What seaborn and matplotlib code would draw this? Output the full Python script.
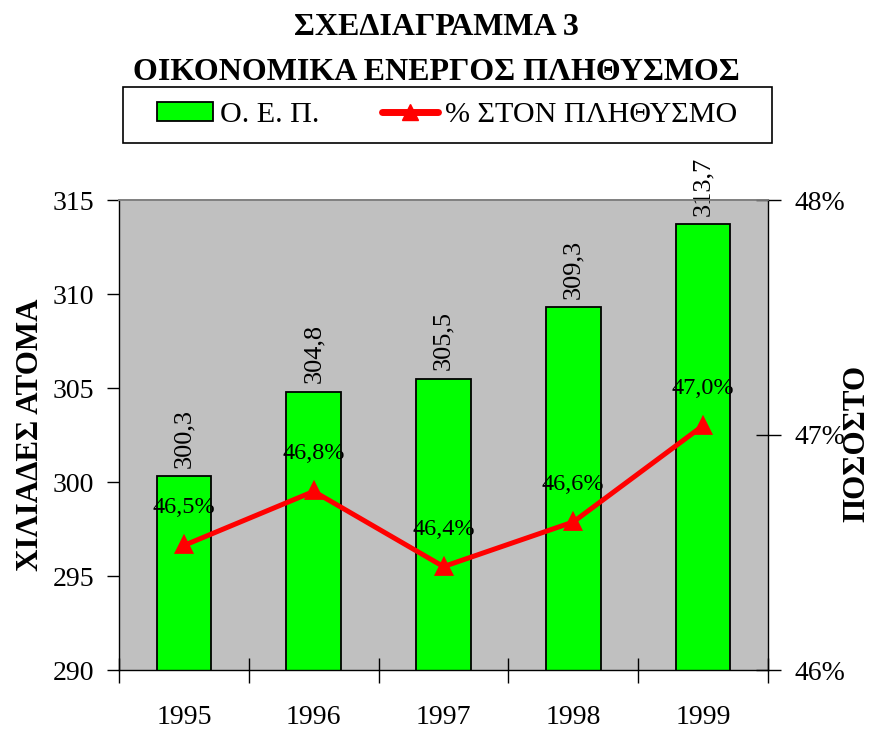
import matplotlib
matplotlib.use("Agg")
import matplotlib.pyplot as plt
import seaborn as sns
import numpy as np
import pandas as pd
from matplotlib.patches import Patch, Rectangle
from matplotlib.lines import Line2D
from matplotlib.ticker import FuncFormatter, FixedLocator

years = ["1995", "1996", "1997", "1998", "1999"]
oep = [300.3, 304.8, 305.5, 309.3, 313.7]
pct = [46.53, 46.76, 46.44, 46.63, 47.04]
pct_labels = ["46,5%", "46,8%", "46,4%", "46,6%", "47,0%"]
bar_labels = ["300,3", "304,8", "305,5", "309,3", "313,7"]

sns.set_theme(style="white")
plt.rcParams['font.family'] = ['Liberation Serif', 'DejaVu Serif']
plt.rcParams.update({"text.color": "black", "axes.labelcolor": "black",
                     "xtick.color": "black", "ytick.color": "black",
                     "xtick.labelcolor": "black", "ytick.labelcolor": "black"})

df = pd.DataFrame({"year": years, "oep": oep, "pct": pct})

W, H = 872, 731
fig = plt.figure(figsize=(W/100, H/100), dpi=100)
ax = fig.add_axes([119/W, 1-670/H, (768-119)/W, (670-200)/H])
ax.set_facecolor("#C0C0C0")

sns.barplot(data=df, x="year", y="oep", ax=ax, color="#00FF00", width=0.42,
            edgecolor="black", linewidth=1.3, saturation=1)
ax.set_ylim(290, 315)
ax.set_yticks([290, 295, 300, 305, 310, 315])
ax.set_xlim(-0.5, 4.5)

for i, (v, lab) in enumerate(zip(oep, bar_labels)):
    ax.annotate(lab, (i, v), xytext=(0, 6), textcoords="offset points",
                rotation=90, ha="center", va="bottom", fontsize=19, color="black",
                annotation_clip=False)

ax2 = ax.twinx()
sns.pointplot(data=df, x="year", y="pct", ax=ax2, color="#FF0000", markers="^",
              linestyles="-", markersize=10, linewidth=3.6)
ax2.set_ylim(46, 48)
ax2.set_yticks([46, 47, 48])
ax2.yaxis.set_major_formatter(FuncFormatter(lambda v, p: f"{v:.0f}%"))
ax2.set_xlim(-0.5, 4.5)
for i, (v, lab) in enumerate(zip(pct, pct_labels)):
    ax2.annotate(lab, (i, v), xytext=(0, 27), textcoords="offset points",
                 ha="center", va="center", fontsize=17.5, color="black")

# x ticks: marks at boundaries, labels at centers
ax.xaxis.set_major_locator(FixedLocator(np.arange(-0.5, 5.0, 1.0)))
ax.set_xticklabels([])
ax.xaxis.set_minor_locator(FixedLocator(np.arange(5)))
ax.set_xticklabels(years, minor=True)
ax.tick_params(axis="x", which="major", direction="inout", length=18, width=1, color="black", bottom=True)
ax.tick_params(axis="x", which="minor", length=0, pad=25, labelsize=20, bottom=True, labelcolor="black")
ax.tick_params(axis="y", direction="out", length=9, width=1, color="black", labelsize=20, left=True, pad=9, labelcolor="black")
ax2.tick_params(axis="y", direction="inout", length=18, width=1, color="black", labelsize=20, right=True, pad=10, labelcolor="black")
ax2.tick_params(axis="x", which="both", bottom=False, labelbottom=False)

for s in ["left", "bottom"]:
    ax.spines[s].set_color("black"); ax.spines[s].set_linewidth(1)
ax.spines["top"].set_color("#808080")
ax.spines["right"].set_visible(False)
ax2.spines["right"].set_color("black"); ax2.spines["right"].set_linewidth(1)
ax2.spines["top"].set_color("#808080")
ax2.spines["left"].set_visible(False)
ax2.spines["bottom"].set_visible(False)

ax.set_xlabel("")
ax.set_ylabel("")
ax2.set_xlabel("")
ax2.set_ylabel("")

fig.text(30/W, 1-435/H, "ΧΙΛΙΑΔΕΣ ΑΤΟΜΑ", rotation=90, ha="center", va="center",
         fontsize=22.3, fontweight="bold", color="black")
fig.text(857/W, 1-443/H, "ΠΟΣΟΣΤΟ", rotation=90, ha="center", va="center",
         fontsize=22.3, fontweight="bold", color="black")

fig.text(0.5, 1-35/H, "ΣΧΕΔΙΑΓΡΑΜΜΑ 3", ha="center", va="baseline", fontsize=23,
         fontweight="bold", color="black")
fig.text(0.5, 1-80/H, "ΟΙΚΟΝΟΜΙΚΑ ΕΝΕΡΓΟΣ ΠΛΗΘΥΣΜΟΣ", ha="center", va="baseline",
         fontsize=23, fontweight="bold", color="black")

# legend frame
fig.patches.append(Rectangle((123/W, 1-143/H), (772-123)/W, (143-87)/H,
                             transform=fig.transFigure, facecolor="white",
                             edgecolor="black", linewidth=1.2, zorder=0))
handles = [Patch(facecolor="#00FF00", edgecolor="black", linewidth=1.3),
           Line2D([0], [0], color="#FF0000", lw=5, marker="^", markersize=11)]
leg = fig.legend(handles, ["Ο. Ε. Π.", "% ΣΤΟΝ ΠΛΗΘΥΣΜΟ"], ncol=2,
                 loc="center left", bbox_to_anchor=(157/W, 1-115/H),
                 frameon=False, fontsize=21.7, handlelength=1.85,
                 handleheight=0.62, handletextpad=0.23, columnspacing=2.1,
                 borderpad=0, borderaxespad=0, labelcolor="black")

fig.savefig("out.png", dpi=100, facecolor="white")
